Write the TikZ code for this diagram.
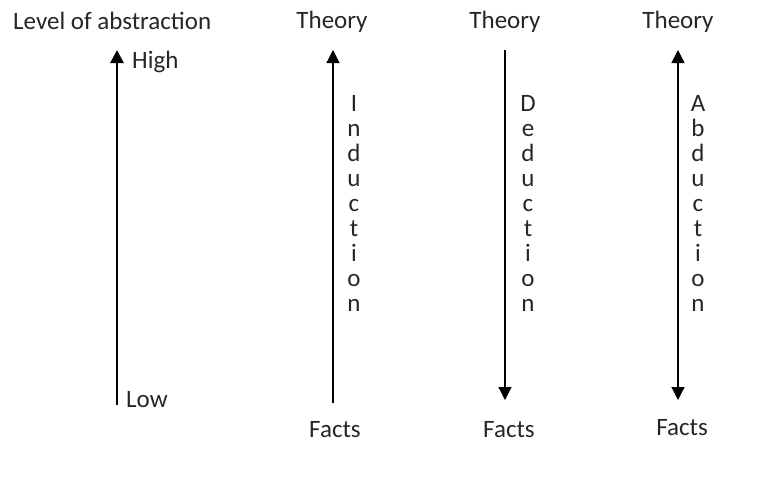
\documentclass[tikz,border=0pt]{standalone}
\usepackage{fontspec}
\setmainfont{Carlito}
\usetikzlibrary{arrows.meta}

\tikzset{
    word/.style={font=\fontsize{25}{30}\selectfont, inner sep=0pt, text=black!85},
    spelled/.style={font=\fontsize{25}{25}\selectfont, align=center, inner sep=0pt, text=black!85, anchor=north},
    tip/.style={-{Triangle[length=13pt,width=13pt]}},
    twotips/.style={{Triangle[length=13pt,width=13pt]}-{Triangle[length=13pt,width=13pt]}},
}

\begin{document}
\begin{tikzpicture}[x=1pt,y=-1pt]
    \useasboundingbox (0,0) rectangle (760,488);

    % Scale of abstraction
    \node[word, anchor=base west] (level) at (13,29) {Level of abstraction};
    \node[word, anchor=base west] (high) at (132,68) {High};
    \node[word, anchor=base west] (low) at (126,407) {Low};
    \coordinate (abs bot) at (117,405);
    \coordinate (abs top) at (117,50);
    \draw[tip, line width=2.7pt] (abs bot) -- (abs top);

    % Induction
    \node[word, anchor=base] (theory ind) at (332,28) {Theory};
    \node[word, anchor=base] (facts ind) at (335,437) {Facts};
    \coordinate (ind bot) at (333,403);
    \coordinate (ind top) at (333,50);
    \draw[tip, line width=1.2pt] (ind bot) -- (ind top);
    \node[spelled] (induction) at (354,95) {I\\n\\d\\u\\c\\t\\i\\o\\n};

    % Deduction
    \node[word, anchor=base] (theory ded) at (505,28) {Theory};
    \node[word, anchor=base] (facts ded) at (509,437) {Facts};
    \coordinate (ded top) at (505,50);
    \coordinate (ded bot) at (505,400);
    \draw[tip, line width=1.2pt] (ded top) -- (ded bot);
    \node[spelled] (deduction) at (528,95) {D\\e\\d\\u\\c\\t\\i\\o\\n};

    % Abduction
    \node[word, anchor=base] (theory abd) at (678,28) {Theory};
    \node[word, anchor=base] (facts abd) at (682,435) {Facts};
    \coordinate (abd top) at (678,50);
    \coordinate (abd bot) at (678,400);
    \draw[twotips, line width=1.2pt] (abd top) -- (abd bot);
    \node[spelled] (abduction) at (698,95) {A\\b\\d\\u\\c\\t\\i\\o\\n};

\end{tikzpicture}
\end{document}
